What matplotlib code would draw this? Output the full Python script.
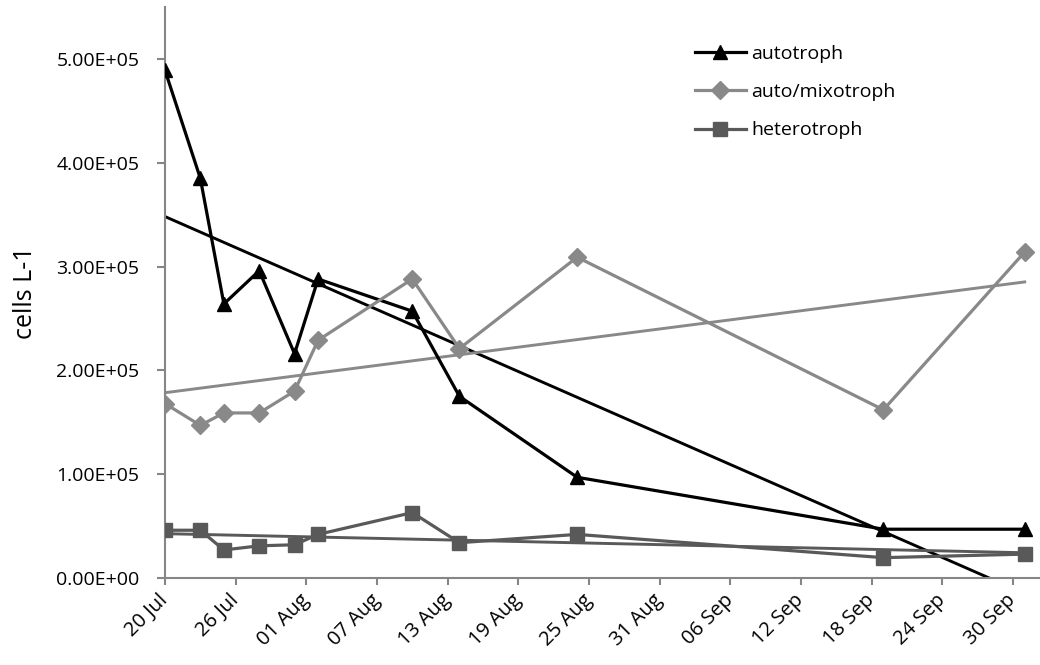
import numpy as np
import pandas as pd
import matplotlib
matplotlib.use("Agg")
import matplotlib.pyplot as plt
import matplotlib.dates as mdates
from matplotlib.ticker import FuncFormatter

plt.rcParams['font.family'] = ['Open Sans', 'DejaVu Sans']

# sampling dates
dates = pd.to_datetime(["2010-07-20", "2010-07-23", "2010-07-25", "2010-07-28",
                        "2010-07-31", "2010-08-02", "2010-08-10", "2010-08-14",
                        "2010-08-24", "2010-09-19", "2010-10-01"])

autotroph = [4.89e5, 3.85e5, 2.64e5, 2.96e5, 2.16e5, 2.88e5, 2.57e5, 1.75e5,
             0.97e5, 0.47e5, 0.47e5]
mixotroph = [1.68e5, 1.47e5, 1.59e5, 1.59e5, 1.80e5, 2.29e5, 2.88e5, 2.21e5,
             3.09e5, 1.62e5, 3.14e5]
heterotroph = [0.46e5, 0.46e5, 0.27e5, 0.31e5, 0.32e5, 0.42e5, 0.63e5, 0.34e5,
               0.42e5, 0.196e5, 0.23e5]

tick_dates = pd.date_range("2010-07-20", "2010-09-30", freq="6D")

series = [
    ("autotroph", autotroph, '#000000', '^', 10.5),
    ("auto/mixotroph", mixotroph, '#898989', 'D', 9),
    ("heterotroph", heterotroph, '#595959', 's', 9.5),
]

fig = plt.figure(figsize=(10.4, 6.65), dpi=100)
ax = fig.add_axes([165 / 1040, 1 - 578 / 665, 1 - 165 / 1040, (578 - 7) / 665])

xnum = mdates.date2num(dates)
for name, vals, col, mk, ms in series:
    ax.plot(dates, vals, color=col, lw=2.3, marker=mk, markersize=ms,
            label=name, zorder=3)
    # linear trendline
    k, b = np.polyfit(xnum, vals, 1)
    ax.plot(dates[[0, -1]], k * xnum[[0, -1]] + b, color=col, lw=2.1, zorder=2)

ax.set_ylim(0, 5.5e5)
ax.set_yticks(np.arange(0, 5.01e5, 1e5))
ax.yaxis.set_major_formatter(FuncFormatter(lambda v, p: '{:.2E}'.format(v)))
ax.set_xlim(mdates.date2num(pd.Timestamp("2010-07-20")),
            mdates.date2num(pd.Timestamp("2010-07-20")) + 74.3)
ax.set_xticks(tick_dates)
ax.xaxis.set_major_formatter(mdates.DateFormatter('%d %b'))

for s in ['top', 'right']:
    ax.spines[s].set_visible(False)
for s in ['left', 'bottom']:
    ax.spines[s].set_color('#868686')
    ax.spines[s].set_linewidth(1.5)
ax.tick_params(axis='y', colors='#868686', width=1.5, length=5.5,
               labelsize=14, labelcolor='#000000', pad=13)
ax.tick_params(axis='x', colors='#868686', width=1.5, length=5,
               labelsize=14.5, labelcolor='#000000', pad=9)
for lab in ax.get_xticklabels():
    lab.set_rotation(45)
    lab.set_ha('right')
    lab.set_va('center')
    lab.set_rotation_mode('anchor')

ax.set_ylabel('cells L-1', fontsize=18, labelpad=13)
ax.legend(loc='upper left', bbox_to_anchor=(0.6057, 0.933), frameon=False,
          fontsize=14, handlelength=2.6, handletextpad=0.3, labelspacing=1.03,
          borderpad=0, borderaxespad=0)

fig.savefig("out.png", dpi=100)
